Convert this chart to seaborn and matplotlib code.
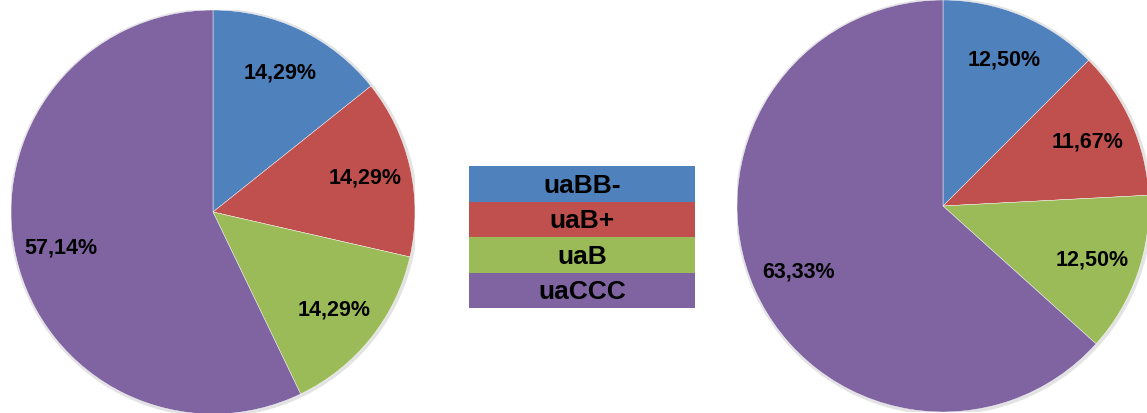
import matplotlib
matplotlib.use("Agg")
import matplotlib.pyplot as plt
import seaborn as sns

# Datos
categorias = ["uaBB-", "uaB+", "uaB", "uaCCC"]
valores_izq = [1, 1, 1, 4]        # 14,29% / 14,29% / 14,29% / 57,14%
valores_der = [15, 14, 15, 76]    # 12,50% / 11,67% / 12,50% / 63,33%
colores = ["#4F81BD", "#C0504D", "#9BBB59", "#8064A2"]

sns.set_theme(style="white")
plt.rcParams["font.family"] = ["Liberation Sans", "DejaVu Sans"]

W, H = 1147, 414
fig = plt.figure(figsize=(W / 100, H / 100), dpi=100)


def fmt(p):
    return f"{p:.2f}".replace(".", ",") + "%"


def pastel(valores, cx, cy, r):
    # cx, cy en píxeles desde arriba
    ax = fig.add_axes([(cx - r) / W, (H - cy - r) / H, 2 * r / W, 2 * r / H])
    sombra = plt.Circle((0.004, -0.004), 1.008, color="#e3e3e3", zorder=0)
    ax.add_patch(sombra)
    ax.pie(valores, colors=colores, startangle=90, counterclock=False,
           autopct=fmt, pctdistance=0.77, radius=1,
           wedgeprops=dict(edgecolor="white", linewidth=0.3),
           textprops=dict(fontsize=15.5, fontweight="bold", color="black"))
    ax.set_xlim(-1, 1)
    ax.set_ylim(-1, 1)
    ax.set_aspect("equal")
    ax.axis("off")
    return ax


pastel(valores_izq, 213, 213, 202)
pastel(valores_der, 943, 207, 206)

# Leyenda central como barras apiladas
ax_leg = fig.add_axes([469 / W, (H - 309) / H, 226 / W, 142 / H])
sns.barplot(x=[1] * len(categorias), y=categorias, hue=categorias, palette=colores,
            width=1, legend=False, ax=ax_leg, saturation=1, linewidth=0)
for i, cat in enumerate(categorias):
    ax_leg.text(0.5, i + 0.03, cat, ha="center", va="center", fontsize=19,
                fontweight="bold", color="black")
ax_leg.set_xlim(0, 1)
ax_leg.set_ylim(3.5, -0.5)
ax_leg.axis("off")

fig.savefig("out.png", dpi=100, facecolor="white")
